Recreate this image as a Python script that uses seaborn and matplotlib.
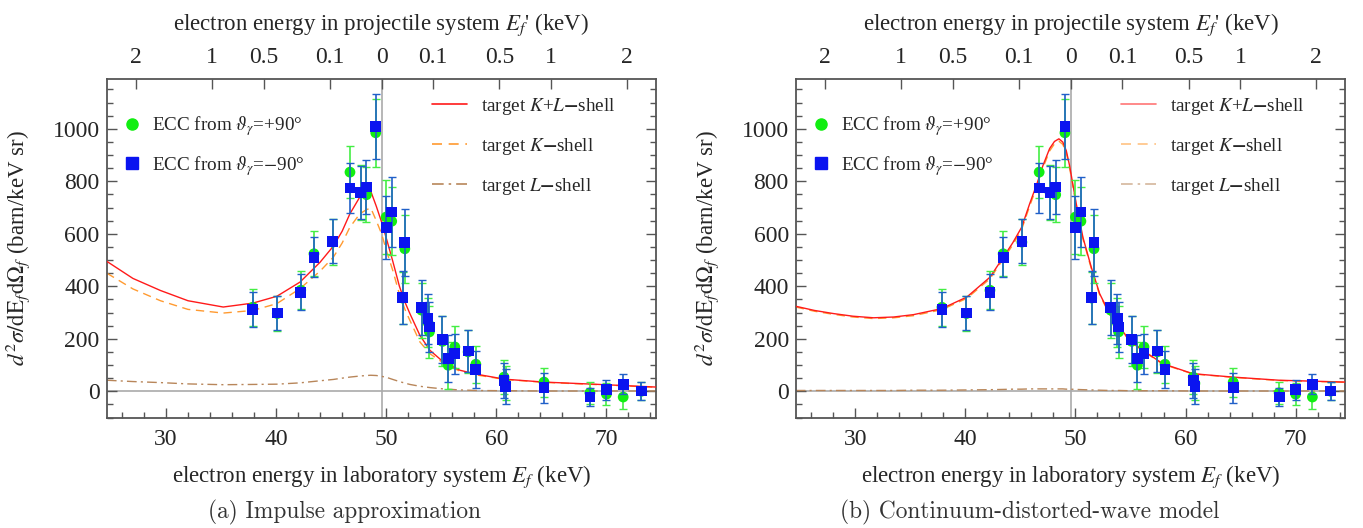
import numpy as np
import pandas as pd
import seaborn as sns
import matplotlib.pyplot as plt
from matplotlib.lines import Line2D
from matplotlib.ticker import MultipleLocator

# measured points (same data in both panels)
energy = [37.88, 40.11, 42.24, 43.44, 45.14, 46.71, 47.70, 48.21, 49.05, 50.00,
          50.50, 51.48, 51.69, 53.21, 53.80, 53.92, 55.11, 55.63, 56.23, 57.44,
          58.14, 60.70, 60.85, 64.33, 68.50, 70.00, 71.52, 73.18]
blue = [312, 298, 377, 511, 572, 775, 757, 778, 1009, 623,
        683, 357, 566, 318, 277, 245, 197, 124, 143, 153,
        83, 42, 19, 14, -22, 6, 27, 1]
blue_err = [68, 65, 68, 75, 85, 95, 100, 103, 125, 120,
            132, 100, 128, 105, 95, 95, 89, 89, 76, 81,
            72, 67, 67, 57, 36, 38, 37, 33]
green = [320, 296, 385, 524, 568, 835, 757, 749, 985, 664,
         648, 355, 543, 309, 262, 226, 190, 99, 169, 150,
         103, 54, 30, 35, -6, -11, -22, 0]
green_err = [70, 67, 72, 85, 88, 98, 105, 105, 130, 140,
             130, 100, 130, 105, 95, 100, 95, 90, 80, 82,
             70, 65, 65, 55, 42, 42, 45, 35]

# impulse approximation curves
ia_e = [24.63, 27.0, 29.5, 32.0, 35.2, 37.9, 40.07, 42.17, 44.0, 45.2, 46.0, 46.7,
        47.6, 48.2, 48.6, 49.1, 49.58, 50.1, 50.6, 51.2, 51.7, 52.15, 53.06, 53.97,
        55.18, 56.7, 58.2, 60.77, 64.3, 68.8, 74.5]
ia_kl = [495, 430, 384, 345, 321, 336, 362, 416, 492, 553, 610, 676,
         740, 759, 762, 705, 645, 570, 495, 400, 340, 296, 213, 156,
         112, 80, 65, 46, 35, 27, 16]
ia_k = [450, 390, 345, 312, 298, 308, 334, 391, 458, 511, 565, 625,
        676, 692, 698, 650, 600, 525, 460, 370, 312, 270, 188, 143,
        108, 76, 62, 45, 34, 26, 15]
ia_l = [42, 37, 33, 28, 25, 26, 27, 32, 40, 45, 50, 54,
        58, 60, 61, 60, 57, 52, 45, 37, 31, 26, 19, 14,
        9, 5, 3, 2, 1, 1, 1]

# continuum-distorted-wave curves
cdw_e = [24.6, 26.3, 28.04, 29.8, 31.67, 33.5, 35.3, 37.87, 40.14, 42.25, 43.45, 44.3,
         45.12, 45.85, 46.5, 47.05, 47.66, 48.1, 48.5, 48.85, 49.17, 49.47, 50.08, 50.68,
         51.44, 52.2, 53.1, 54.0, 54.92, 56.12, 57.94, 60.66, 64.3, 68.5, 74.5]
cdw_kl = [324, 308, 296, 286, 280, 283, 292, 315, 359, 435, 511, 565,
          625, 715, 790, 860, 925, 952, 962, 950, 917, 860, 714, 587,
          473, 372, 296, 245, 194, 156, 105, 67, 54, 42, 35]
cdw_k = [321, 305, 293, 283, 277, 280, 288, 311, 354, 429, 504, 557,
         617, 706, 781, 851, 916, 943, 953, 941, 909, 852, 707, 581,
         468, 368, 293, 242, 192, 154, 103, 66, 53, 41, 34]
cdw_l = [3, 3, 3, 3, 3, 3, 4, 4, 5, 6, 7, 8,
         8, 9, 9, 9, 9, 9, 9, 9, 8, 8, 7, 6,
         5, 4, 3, 3, 2, 2, 2, 1, 1, 1, 1]

# top axis: projectile-frame energy
E_cusp = 49.58
top_vals = [2, 1, 0.5, 0.1, 0, 0.1, 0.5, 1, 2]
top_side = [-1, -1, -1, -1, 0, 1, 1, 1, 1]
top_labels = ["2", "1", "0.5", "0.1", "0", "0.1", "0.5", "1", "2"]

sns.set_style("ticks")
plt.rcParams['font.family'] = ['Liberation Serif', 'DejaVu Serif']
plt.rcParams['mathtext.fontset'] = 'stix'

pts = pd.DataFrame({"E": energy, "blue": blue, "green": green})
FS = 16.5
TS = 17
LS = 13.8
frame_col = "#555555"


def panel(ax, e, kl, k, l, caption, capx, leg_alpha):
    ax.axhline(0, color="#aaaaaa", lw=1.2, zorder=0)
    ax.axvline(E_cusp, color="#aaaaaa", lw=1.2, zorder=0)
    cur = pd.DataFrame({"E": e, "kl": kl, "k": k, "l": l})
    sns.lineplot(data=cur, x="E", y="l", ax=ax, color="#b8865a", lw=1.0,
                 sort=False, estimator=None, zorder=2)
    ax.lines[-1].set_dashes([7, 3, 1.5, 3])
    sns.lineplot(data=cur, x="E", y="k", ax=ax, color="#ff9a30", lw=1.0,
                 sort=False, estimator=None, zorder=2)
    ax.lines[-1].set_dashes([6, 4])
    sns.lineplot(data=cur, x="E", y="kl", ax=ax, color="#ff1a1a", lw=1.0,
                 sort=False, estimator=None, zorder=3)

    ax.errorbar(energy, green, yerr=green_err, fmt="none", ecolor="#44ee44",
                elinewidth=1.2, capsize=3, capthick=1.0, zorder=4)
    sns.scatterplot(data=pts, x="E", y="green", ax=ax, marker="o", s=60,
                    color="#11ee11", edgecolor="none", zorder=5)
    ax.errorbar(energy, blue, yerr=blue_err, fmt="none", ecolor="#2060c8",
                elinewidth=1.2, capsize=3, capthick=1.0, zorder=6)
    sns.scatterplot(data=pts, x="E", y="blue", ax=ax, marker="s", s=60,
                    color="#0a14f0", edgecolor="none", zorder=7)

    ax.set_xlim(24.6, 74.5)
    ax.set_ylim(-100, 1190)
    ax.xaxis.set_major_locator(MultipleLocator(10))
    ax.xaxis.set_minor_locator(MultipleLocator(2))
    ax.yaxis.set_major_locator(MultipleLocator(200))
    ax.yaxis.set_minor_locator(MultipleLocator(50))
    ax.tick_params(which="both", direction="in", top=False, right=True,
                   color=frame_col, labelsize=TS, width=1.0)
    ax.tick_params(which="major", length=7)
    ax.tick_params(which="minor", length=4)
    ax.tick_params(axis="x", pad=8)
    ax.tick_params(axis="y", pad=5)
    for s in ax.spines.values():
        s.set_color(frame_col)
        s.set_linewidth(1.3)
    ax.set_xlabel(r"electron energy in laboratory system $E_f$ (keV)", fontsize=FS, labelpad=10)
    ax.set_ylabel(r"$d^2\sigma/\mathrm{dE}_f\mathrm{d}\Omega_f$ (barn/keV sr)", fontsize=FS)
    ax.yaxis.set_label_coords(-0.136, 0.5)

    top = ax.twiny()
    top.set_xlim(ax.get_xlim())
    pos = [E_cusp + sd * (14.52 * np.sqrt(v) + 0.88 * v) for v, sd in zip(top_vals, top_side)]
    top.set_xticks(pos)
    top.set_xticklabels(top_labels)
    top.tick_params(direction="in", length=7, color=frame_col, labelsize=TS, pad=8, width=1.0)
    for s in top.spines.values():
        s.set_visible(False)
    top.set_xlabel(r"electron energy in projectile system $E_f$' (keV)", fontsize=FS, labelpad=12)

    h1 = [Line2D([], [], ls="none", marker="o", ms=8, color="#11ee11"),
          Line2D([], [], ls="none", marker="s", ms=8, color="#0a14f0")]
    leg1 = ax.legend(h1, [r"ECC from $\vartheta_\gamma$=+90°", r"ECC from $\vartheta_\gamma$=$-$90°"],
                     loc="upper left", bbox_to_anchor=(0.015, 0.918), frameon=False,
                     fontsize=LS, handlelength=1.0, handletextpad=0.55, labelspacing=0.8,
                     borderaxespad=0)
    ax.add_artist(leg1)
    h2 = [Line2D([], [], color="#ff1a1a", lw=1.2, alpha=leg_alpha),
          Line2D([], [], color="#ff9a30", lw=1.2, dashes=[6, 4], alpha=leg_alpha),
          Line2D([], [], color="#b8865a", lw=1.2, dashes=[7, 3, 1.5, 3], alpha=leg_alpha)]
    ax.legend(h2, [r"target $K$+$L$$\mathbf{-}$shell", r"target $K$$\mathbf{-}$shell",
                   r"target $L$$\mathbf{-}$shell"],
              loc="upper left", bbox_to_anchor=(0.578, 0.973), frameon=False,
              fontsize=LS, handlelength=1.85, handletextpad=0.7, labelspacing=1.0,
              borderaxespad=0)
    plt.gcf().text(capx, 1 - 512 / 528, caption, family="cmr10", fontsize=16.8,
                   color="#333333", ha="center", va="center")


fig = plt.figure(figsize=(13.63, 5.28), dpi=100)
ax1 = fig.add_axes([106.5 / 1363, 1 - 417.5 / 528, 549.5 / 1363, 338.5 / 528])
ax2 = fig.add_axes([795.7 / 1363, 1 - 417.5 / 528, 549.5 / 1363, 338.5 / 528])
panel(ax1, ia_e, ia_kl, ia_k, ia_l, "(a) Impulse approximation", 345 / 1363, 1.0)
panel(ax2, cdw_e, cdw_kl, cdw_k, cdw_l, "(b) Continuum-distorted-wave model", 1030 / 1363, 0.6)
fig.savefig("out.png", dpi=100)
